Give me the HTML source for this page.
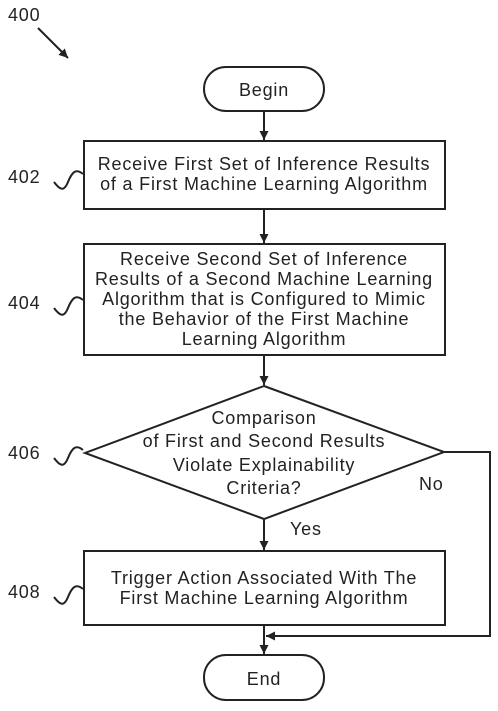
<!DOCTYPE html>
<html><head><style>
body{margin:0;background:#fff}
svg text{font-family:"Liberation Sans",sans-serif;font-size:18px;letter-spacing:0.8px;fill:#222}
</style></head><body>
<svg width="498" height="706" viewBox="0 0 498 706" xmlns="http://www.w3.org/2000/svg">
<defs><marker id="a" viewBox="0 0 10 10" refX="10" refY="5" markerWidth="9" markerHeight="9" orient="auto" markerUnits="userSpaceOnUse"><path d="M0,0L10,5L0,10z" fill="#222"/></marker></defs>
<g stroke="#222" stroke-width="2" fill="none">
<rect x="204" y="67" width="120" height="44" rx="22"/>
<rect x="84" y="141" width="361" height="68"/>
<rect x="84" y="244" width="361" height="111"/>
<path d="M264,386L85,453L264,519L444,452Z"/>
<rect x="84" y="551" width="361" height="74"/>
<rect x="204" y="655" width="120" height="45" rx="22"/>
<path d="M264,111V140" marker-end="url(#a)"/>
<path d="M264,209V243" marker-end="url(#a)"/>
<path d="M264,355V385" marker-end="url(#a)"/>
<path d="M264,519V550" marker-end="url(#a)"/>
<path d="M264,625V654" marker-end="url(#a)"/>
<path d="M444,452H490V636H266" marker-end="url(#a)"/>
<path d="M38,28L68,58" marker-end="url(#a)"/>
<path d="M54,182c6,8 10,10 14,0s8,-14 15,-8"/>
<path d="M54,308c6,8 10,10 14,0s8,-14 15,-8"/>
<path d="M54,458c6,8 10,10 14,0s8,-14 15,-8"/>
<path d="M54,597c6,8 10,10 14,0s8,-14 15,-8"/>
</g>
<text x="8" y="21">400</text>
<text x="8" y="183">402</text>
<text x="8" y="309">404</text>
<text x="8" y="459">406</text>
<text x="8" y="598">408</text>
<g text-anchor="middle">
<text x="264" y="96">Begin</text>
<text x="264" y="170">Receive First Set of Inference Results</text>
<text x="264" y="190">of a First Machine Learning Algorithm</text>
<text x="264" y="265">Receive Second Set of Inference</text>
<text x="264" y="285">Results of a Second Machine Learning</text>
<text x="264" y="305">Algorithm that is Configured to Mimic</text>
<text x="264" y="325">the Behavior of the First Machine</text>
<text x="264" y="345">Learning Algorithm</text>
<text x="264" y="424">Comparison</text>
<text x="264" y="447">of First and Second Results</text>
<text x="264" y="471">Violate Explainability</text>
<text x="264" y="494">Criteria?</text>
<text x="264" y="584">Trigger Action Associated With The</text>
<text x="264" y="604">First Machine Learning Algorithm</text>
<text x="264" y="685">End</text>
</g>
<text x="419" y="490">No</text>
<text x="290" y="535">Yes</text>
</svg>
</body></html>
